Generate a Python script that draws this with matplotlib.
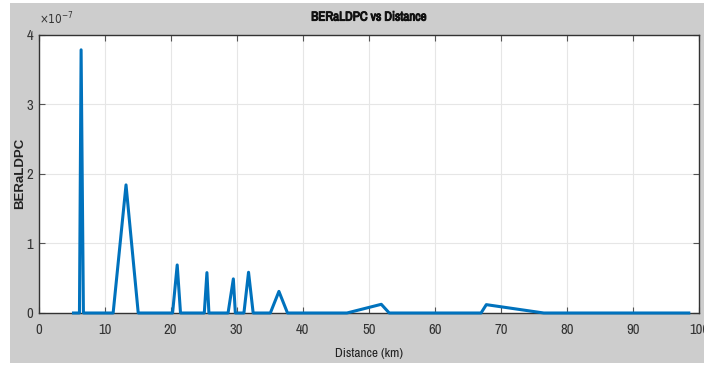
import matplotlib
matplotlib.use("Agg")
import matplotlib.pyplot as plt
import matplotlib.patheffects as pe
from matplotlib.patches import Rectangle
from matplotlib import font_manager

# Data (distance in km, BER in units of 1e-7)
distance_km = [5.3, 6.2, 6.45, 6.8, 11.3, 13.25, 15.1, 20.3, 21.0, 21.5,
               25.1, 25.5, 25.8, 28.7, 29.5, 29.8, 31.1, 31.8, 32.5,
               35.1, 36.4, 37.7, 46.7, 51.9, 53.1, 67.0, 67.8, 76.5, 98.45]
ber_e7 = [0, 0, 3.78, 0, 0, 1.84, 0, 0, 0.69, 0,
          0, 0.58, 0, 0, 0.49, 0, 0, 0.585, 0,
          0, 0.31, 0, 0, 0.125, 0, 0, 0.12, 0, 0]
x_ticks = [0, 10, 20, 30, 40, 50, 60, 70, 80, 90, 100]
y_ticks = [0, 1, 2, 3, 4]

# look for a condensed sans font (MATLAB screenshot text is narrow)
cond = None
for f in font_manager.fontManager.ttflist:
    nm = f.name
    if ("Narrow" in nm or "Condensed" in nm) and "Mono" not in nm and "Serif" not in nm:
        cond = (nm, f.stretch)
        break
if cond is None:
    for f in font_manager.fontManager.ttflist:
        if str(f.stretch) in ("condensed", "semi-condensed", "extra-condensed") and "Mono" not in f.name and "Serif" not in f.name:
            cond = (f.name, f.stretch)
            break
if cond is not None:
    plt.rcParams["font.family"] = [cond[0], "DejaVu Sans"]
    plt.rcParams["font.stretch"] = cond[1]
    tick_fs, title_fs, xl_fs = 10.5, 9.4, 9.6
else:
    plt.rcParams["font.family"] = ["Liberation Sans", "DejaVu Sans"]
    tick_fs, title_fs, xl_fs = 8.5, 8.5, 8.5

W, H = 704, 365
fig = plt.figure(figsize=(W / 100, H / 100), dpi=100, facecolor="white")
fig.patches.append(Rectangle((10 / W, 1 - 363 / H), 1 - 10 / W, (363 - 3) / H,
                             transform=fig.transFigure, facecolor="#cdcdcd",
                             edgecolor="none", zorder=-5))

ax = fig.add_axes([38.5 / W, 1 - 313 / H, (699 - 38.5) / W, (313 - 34.5) / H])
ax.set_facecolor("white")
ax.plot(distance_km, ber_e7, color="#0072BD", lw=2.2, clip_on=False, zorder=3)
ax.set_xlim(0, 100)
ax.set_ylim(0, 4)
ax.set_xticks(x_ticks)
ax.set_yticks(y_ticks)
ax.grid(True, color="#e6e6e6", lw=0.8)
ax.set_axisbelow(True)
ax.tick_params(direction="in", length=4, color="#555555", labelsize=tick_fs,
               labelcolor="#333333", top=True, right=True)
ax.tick_params(axis="x", pad=7)
ax.tick_params(axis="y", pad=4)
for s in ax.spines.values():
    s.set_color("#333333")
    s.set_linewidth(1.0)

t = ax.set_title("BERaLDPC vs Distance", fontsize=title_fs, fontweight="bold",
                 color="#111111", pad=10)
t.set_path_effects([pe.withStroke(linewidth=0.7, foreground="#111111")])
ax.set_xlabel("Distance (km)", fontsize=xl_fs, color="#222222", labelpad=8)
ax.yaxis.set_label_coords((20.5 - 38.5) / (699 - 38.5), 0.53)
ax.set_ylabel("BERaLDPC", fontsize=9.5, fontweight="bold", color="#222222",
              family=["Liberation Sans", "DejaVu Sans"], va="center", stretch="normal")
fig.text(39 / W, 1 - 19 / H, r"$\times10^{-7}$", fontsize=8.5, color="#333333",
         ha="left", va="center")

fig.savefig("out.png", dpi=100, facecolor="white")
